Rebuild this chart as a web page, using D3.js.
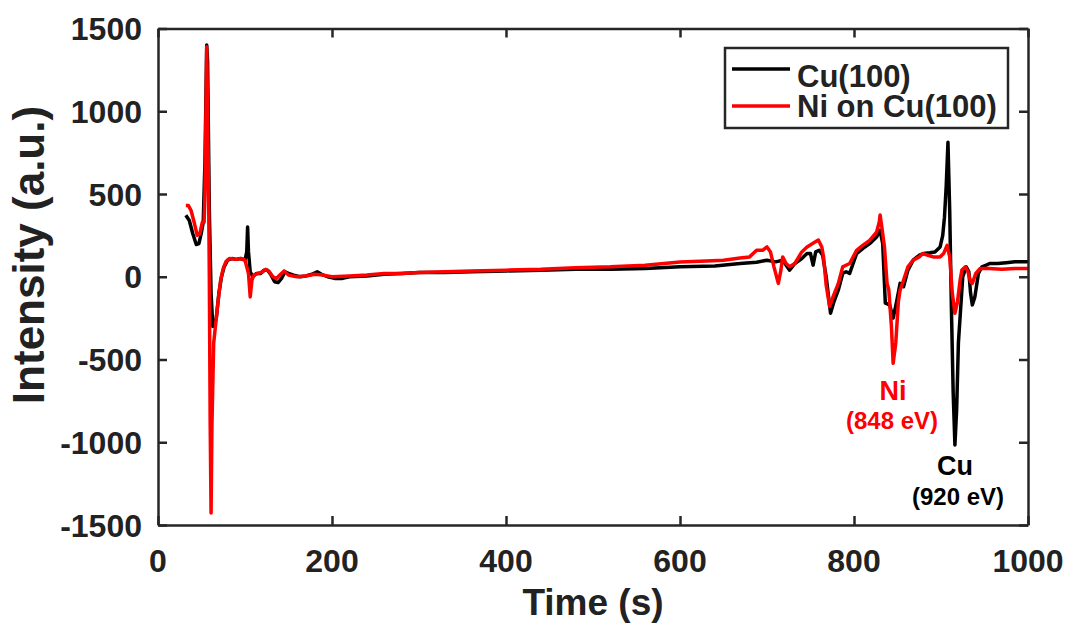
<!DOCTYPE html>
<html lang="en">
<head>
    <meta charset="UTF-8">
    <title>Intensity vs time</title>
    <style>
        body { margin: 0; background: #fff; }
        text { font-family: "Liberation Sans", Arial, sans-serif; font-weight: bold; fill: #222; }
        .axis path, .axis line { stroke: #262626; }
    </style>
</head>
<body>
    <svg id="chart" width="1070" height="625"></svg>

    <script src="https://d3js.org/d3.v7.min.js"></script>
    <script>

        // Cu(100) trace, [time (s), intensity (a.u.)]
        var cuData = [
            [32, 372], [36, 340], [40, 260], [44, 195], [47, 200], [50, 270], [52, 330], [54, 700],
            [56, 1400], [57, 1300], [59, 400], [61, -100], [63, -300], [65, -290], [67, -250], [70, -100],
            [73, 0], [76, 60], [80, 100], [85, 110], [90, 105], [95, 110], [100, 100], [102, 150],
            [103, 300], [104, 150], [106, 30], [109, 0], [113, 20], [118, 20], [122, 40], [126, 40],
            [130, 10], [134, -30], [138, -35], [142, -10], [146, 30], [150, 20], [156, 10], [163, 0],
            [170, 5], [177, 15], [183, 30], [188, 15], [195, 0], [203, -10], [212, -10], [220, 0],
            [240, 5], [260, 15], [280, 20], [300, 25], [330, 25], [360, 30], [400, 35], [440, 40],
            [480, 45], [520, 45], [560, 50], [600, 60], [640, 65], [669, 80], [688, 88], [700, 100],
            [710, 90], [718, 100], [726, 40], [732, 80], [740, 110], [746, 140], [750, 140], [753, 70],
            [756, 150], [760, 160], [764, 130], [768, 0], [773, -220], [777, -150], [782, -80], [787, 20],
            [791, 30], [795, 20], [799, 80], [803, 140], [810, 170], [818, 200], [826, 240], [830, 280],
            [833, 200], [836, -160], [841, -170], [845, -250], [849, -150], [853, -40], [857, -60], [862, 40],
            [868, 100], [875, 130], [880, 140], [887, 145], [893, 150], [899, 180], [902, 250], [904, 360],
            [906, 550], [908, 813], [910, 400], [912, -200], [914, -700], [916, -1016], [918, -800], [920, -400],
            [922, -240], [925, 0], [929, 60], [932, 30], [934, -100], [936, -170], [939, -120], [943, 20],
            [947, 60], [952, 70], [956, 80], [965, 80], [975, 85], [985, 90], [1000, 90]
        ];

        // Ni on Cu(100) trace
        var niData = [
            [32, 430], [35, 430], [38, 400], [42, 320], [45, 250], [48, 260], [51, 330], [53, 330],
            [54, 500], [56, 1390], [58, 600], [59, 0], [60, -900], [61, -1427], [62, -900], [64, -400],
            [66, -300], [69, -150], [72, -20], [75, 50], [78, 90], [82, 110], [90, 105], [96, 110],
            [100, 100], [102, 60], [104, 20], [106, -122], [108, -20], [110, 10], [115, 20], [120, 30],
            [124, 45], [128, 30], [132, 0], [136, -10], [140, 10], [145, 35], [150, 10], [155, 5],
            [160, 0], [170, 5], [180, 15], [190, 10], [200, 0], [220, 5], [240, 10], [260, 20],
            [280, 20], [300, 25], [330, 30], [360, 35], [400, 40], [440, 45], [480, 55], [520, 60],
            [560, 70], [600, 89], [630, 95], [650, 100], [669, 113], [680, 120], [688, 160], [695, 160],
            [700, 180], [704, 150], [708, 60], [713, -40], [716, 40], [718, 120], [722, 80], [726, 60],
            [732, 80], [740, 150], [746, 180], [752, 200], [759, 222], [763, 180], [765, 120], [768, -50],
            [772, -180], [776, -120], [782, -40], [787, 60], [795, 80], [803, 160], [810, 190], [818, 220],
            [826, 270], [829, 330], [830, 373], [832, 300], [835, 180], [838, -40], [840, -80], [843, -300],
            [845, -523], [848, -400], [851, -150], [853, -80], [857, -20], [862, 60], [868, 100], [875, 120],
            [879, 140], [885, 130], [891, 120], [899, 120], [903, 140], [907, 190], [910, 120], [913, -100],
            [916, -220], [919, -150], [922, -20], [924, 40], [928, 60], [931, 30], [934, -30], [936, -40],
            [940, 20], [945, 50], [955, 50], [970, 45], [985, 50], [1000, 50]
        ];

        var xTicks = [0, 200, 400, 600, 800, 1000];
        var yTicks = [-1500, -1000, -500, 0, 500, 1000, 1500];
        var seriesNames = ["Cu(100)", "Ni on Cu(100)"];
        var seriesColors = ["#000000", "#ff0000"];

        var svg = d3.select("#chart");
        // plot frame (note: "top" is taken by window.top, so use other names)
        var plotLeft = 158, plotRight = 1028, plotTop = 28.5, plotBottom = 525;

        var x = d3.scaleLinear().domain([0, 1000]).range([plotLeft, plotRight]);
        var y = d3.scaleLinear().domain([-1500, 1500]).range([plotBottom, plotTop]);

        var line = d3.line()
            .x(function(d) { return x(d[0]); })
            .y(function(d) { return y(d[1]); });

        // traces, black first so the red one sits on top
        [cuData, niData].forEach(function(data, i) {
            svg.append("path")
                .datum(data)
                .attr("d", line)
                .attr("fill", "none")
                .attr("stroke", seriesColors[i])
                .attr("stroke-width", 3.5)
                .attr("stroke-linejoin", "round");
        });

        // box axes with inward ticks
        function styleAxis(g) {
            g.attr("class", "axis");
            g.selectAll("path").attr("stroke-width", 2.5);
            g.selectAll("line").attr("stroke-width", 2.5);
        }

        svg.append("g")
            .attr("transform", "translate(0," + plotBottom + ")")
            .call(d3.axisBottom(x).tickValues(xTicks).tickSize(-9).tickSizeOuter(0).tickFormat(""))
            .call(styleAxis);
        svg.append("g")
            .attr("transform", "translate(0," + plotTop + ")")
            .call(d3.axisTop(x).tickValues(xTicks).tickSize(-9).tickSizeOuter(0).tickFormat(""))
            .call(styleAxis);
        svg.append("g")
            .attr("transform", "translate(" + plotLeft + ",0)")
            .call(d3.axisLeft(y).tickValues(yTicks).tickSize(-9).tickSizeOuter(0).tickFormat(""))
            .call(styleAxis);
        svg.append("g")
            .attr("transform", "translate(" + plotRight + ",0)")
            .call(d3.axisRight(y).tickValues(yTicks).tickSize(-9).tickSizeOuter(0).tickFormat(""))
            .call(styleAxis);

        // tick labels
        svg.selectAll(".xlab")
            .data(xTicks)
            .enter().append("text")
            .attr("x", function(d) { return x(d); })
            .attr("y", 572)
            .attr("text-anchor", "middle")
            .style("font-size", "32px")
            .text(function(d) { return d; });

        svg.selectAll(".ylab")
            .data(yTicks)
            .enter().append("text")
            .attr("x", 142)
            .attr("y", function(d) { return y(d) + 11.5; })
            .attr("text-anchor", "end")
            .style("font-size", "32px")
            .text(function(d) { return d; });

        // axis titles
        svg.append("text")
            .attr("x", (plotLeft + plotRight) / 2)
            .attr("y", 615)
            .attr("text-anchor", "middle")
            .style("font-size", "37px")
            .text("Time (s)");

        svg.append("text")
            .attr("transform", "translate(44,255) rotate(-90)")
            .attr("text-anchor", "middle")
            .style("font-size", "44px")
            .text("Intensity (a.u.)");

        // legend
        var legend = svg.append("g");
        legend.append("rect")
            .attr("x", 725).attr("y", 48)
            .attr("width", 283).attr("height", 80)
            .attr("fill", "#fff")
            .attr("stroke", "#262626")
            .attr("stroke-width", 2.5);

        seriesNames.forEach(function(name, i) {
            legend.append("line")
                .attr("x1", 732).attr("x2", 790)
                .attr("y1", 69 + i * 37).attr("y2", 69 + i * 37)
                .attr("stroke", seriesColors[i])
                .attr("stroke-width", 3.5);
            legend.append("text")
                .attr("x", 797)
                .attr("y", 87 + i * 30)
                .style("font-size", "31px")
                .text(name);
        });

        // peak annotations
        svg.append("text").attr("x", 893).attr("y", 400).attr("text-anchor", "middle")
            .style("font-size", "27px").style("fill", "#ff0000").text("Ni");
        svg.append("text").attr("x", 892).attr("y", 429).attr("text-anchor", "middle")
            .style("font-size", "24px").style("fill", "#ff0000").text("(848 eV)");
        svg.append("text").attr("x", 955).attr("y", 475).attr("text-anchor", "middle")
            .style("font-size", "27px").style("fill", "#000").text("Cu");
        svg.append("text").attr("x", 958).attr("y", 505).attr("text-anchor", "middle")
            .style("font-size", "24px").style("fill", "#000").text("(920 eV)");

    </script>
</body>
</html>
